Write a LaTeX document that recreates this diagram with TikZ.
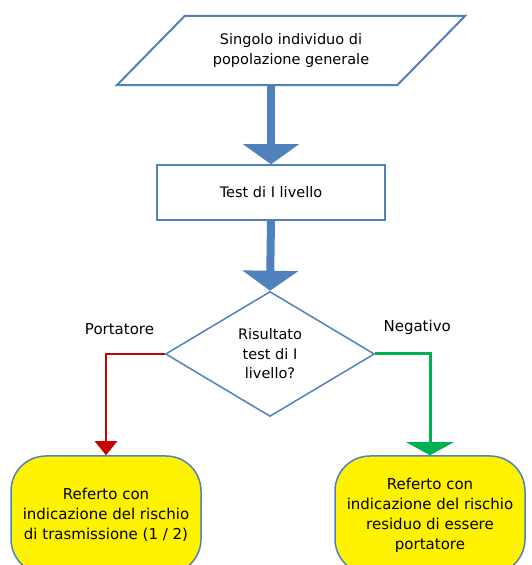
\documentclass[tikz,border=0pt]{standalone}
\usepackage{fontspec}
\setmainfont{DejaVu Sans}
\usetikzlibrary{positioning,shapes.geometric,arrows.meta}
\definecolor{flowblue}{RGB}{79,129,189}
\definecolor{carrierred}{RGB}{200,0,0}
\definecolor{negativegreen}{RGB}{0,176,80}
\tikzset{x=1pt,y=1pt,
  box/.style={draw=flowblue,line width=1.5pt,font=\fontsize{14.5}{20.5}\selectfont,align=center},
  inputbox/.style={font=\fontsize{14.5}{20.5}\selectfont,align=center,minimum width=280pt,minimum height=69pt},
  slanted/.style={draw=flowblue,line width=2pt,line join=miter},
  testbox/.style={box,rectangle,minimum width=228pt,minimum height=55pt},
  choice/.style={box,diamond,aspect=1.67,inner sep=0pt,minimum width=209pt,minimum height=125pt,
    font=\fontsize{14.5}{19.5}\selectfont},
  report/.style={box,fill=yellow,rectangle,rounded corners=35pt,minimum width=190pt,minimum height=118pt,
    font=\fontsize{15}{20}\selectfont},
  bigflow/.style={draw=flowblue,line width=8pt,-{Triangle[width=55pt,length=20pt]}},
  carrierflow/.style={draw=carrierred,line width=2.5pt,-{Triangle[width=22pt,length=14pt]}},
  negativeflow/.style={draw=negativegreen,line width=3pt,-{Triangle[width=47pt,length=13pt]}},
  branch/.style={font=\fontsize{15}{17}\selectfont,above=15pt}}

\begin{document}
\begin{tikzpicture}
  \useasboundingbox (0,0) rectangle (532,565);
  \clip (0,0) rectangle (532,565);
  \node [testbox] (test) at (271,372.5) {Test di I livello};
  \node [inputbox,above=79pt of test,xshift=20pt] (input) {Singolo individuo di\\popolazione generale};
  \draw [slanted] ([xshift=-34pt]input.south west) -- ([xshift=-34pt]input.south east)
    -- ([xshift=34pt]input.north east) -- ([xshift=34pt]input.north west) -- cycle;
  \node [choice,below=70pt of test,xshift=-1pt] (result) {Risultato\\test di I\\livello?};
  \node [report,below=38pt of result,xshift=-164pt] (carrier) {Referto con\\indicazione del rischio\\di trasmissione (1 / 2)};
  \node [report,below=38pt of result,xshift=160pt] (negative) {Referto con\\indicazione del rischio\\residuo di essere\\portatore};
  \path [bigflow] (input.south -| test.north) -- (test.north);
  \path [bigflow] (test.south) -- (result.north);
  \draw [carrierflow] (result.west) -| node [branch,pos=0.385] {Portatore} (carrier.north);
  \draw [negativeflow] (result.east) -| node [branch,pos=0.383] {Negativo} (negative.north);
\end{tikzpicture}
\end{document}
